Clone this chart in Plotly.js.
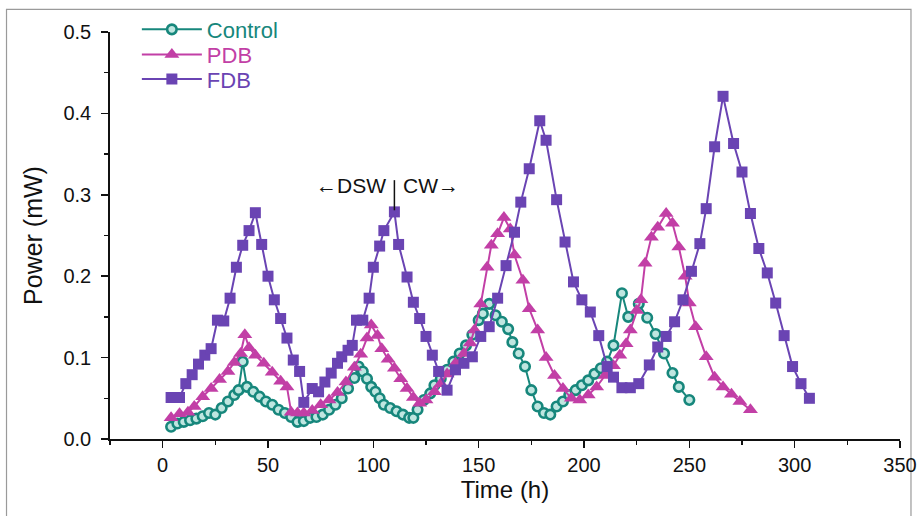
<!DOCTYPE html>
<html>
<head>
<meta charset="utf-8">
<script src="https://cdn.plot.ly/plotly-3.0.1.min.js"></script>
<style>
html,body{margin:0;padding:0;background:#fff;}
#chart{width:919px;height:516px;}
</style>
</head>
<body>
<div id="chart"></div>
<script>
// ---- data ----
const controlX = [4,7,10,13,16,19,22,25,28,31,34,36,38,40,43,46,49,52,55,58,61,64,67,70,73,76,79,82,85,88,91,93,95,97,99,101,103,105,108,111,114,117,119,121,124,127,129,132,135,138,141,144,147,150,152,155,158,161,164,166,169,172,175,178,181,184,187,190,193,196,199,202,205,208,211,214,218,221,226,230,234,238,242,245,250];
const controlY = [0.015,0.019,0.021,0.023,0.025,0.028,0.032,0.030,0.038,0.046,0.054,0.060,0.095,0.064,0.058,0.052,0.046,0.042,0.036,0.032,0.027,0.021,0.022,0.026,0.027,0.030,0.036,0.042,0.050,0.062,0.075,0.089,0.083,0.074,0.064,0.058,0.050,0.042,0.038,0.034,0.030,0.026,0.026,0.036,0.048,0.056,0.066,0.074,0.085,0.095,0.105,0.115,0.128,0.146,0.154,0.166,0.152,0.144,0.135,0.119,0.105,0.089,0.060,0.040,0.032,0.030,0.040,0.046,0.054,0.060,0.066,0.072,0.080,0.087,0.095,0.115,0.179,0.150,0.166,0.149,0.129,0.105,0.081,0.064,0.048];

const pdbX = [4,8,12,15,19,23,27,31,34,37,39,41,44,48,52,56,59,61,64,67,71,75,79,83,87,91,94,97,99,102,104,107,110,113,116,119,122,125,129,132,135,139,143,146,148,151,154,156,159,162,165,167,171,174,178,182,186,190,194,198,202,206,210,214,217,220,222,225,227,229,232,235,239,242,245,248,250,253,258,262,266,270,274,279];
const pdbY = [0.026,0.031,0.033,0.040,0.052,0.062,0.073,0.083,0.094,0.105,0.128,0.112,0.103,0.093,0.082,0.071,0.064,0.033,0.032,0.032,0.035,0.042,0.048,0.057,0.070,0.088,0.104,0.124,0.140,0.127,0.111,0.098,0.087,0.074,0.062,0.051,0.044,0.048,0.058,0.068,0.080,0.093,0.105,0.118,0.134,0.166,0.211,0.238,0.252,0.272,0.258,0.226,0.195,0.160,0.134,0.100,0.078,0.062,0.050,0.048,0.054,0.064,0.078,0.090,0.103,0.117,0.134,0.158,0.171,0.216,0.248,0.260,0.277,0.265,0.236,0.200,0.167,0.138,0.101,0.076,0.064,0.055,0.046,0.036];

const fdbX = [4,8,11,14,17,20,23,26,29,32,35,38,41,44,47,50,53,56,59,62,65,67,71,74,77,80,83,85,88,90,92,95,98,100,103,105,110,112,116,119,122,125,128,131,135,139,143,147,151,155,159,163,167,170,174,179,182,187,191,195,199,203,207,211,214,218,222,226,231,235,239,243,247,251,255,258,262,266,271,275,279,283,287,291,295,299,303,307];
const fdbY = [0.051,0.051,0.068,0.079,0.092,0.103,0.111,0.146,0.145,0.173,0.211,0.238,0.256,0.278,0.239,0.200,0.171,0.148,0.124,0.097,0.083,0.045,0.062,0.058,0.070,0.081,0.093,0.101,0.109,0.115,0.146,0.146,0.173,0.211,0.237,0.256,0.279,0.239,0.199,0.168,0.148,0.126,0.103,0.083,0.060,0.085,0.093,0.101,0.126,0.138,0.173,0.213,0.254,0.291,0.332,0.391,0.367,0.294,0.242,0.193,0.171,0.156,0.127,0.089,0.076,0.063,0.063,0.068,0.091,0.113,0.126,0.144,0.171,0.206,0.240,0.283,0.359,0.421,0.363,0.328,0.277,0.234,0.204,0.167,0.127,0.089,0.068,0.050];

const seriesNames = ["Control", "PDB", "FDB"];
const xTitle = "Time (h)";
const yTitle = "Power (mW)";
const xTickVals = [0,50,100,150,200,250,300,350];
const yTickVals = [0.0,0.1,0.2,0.3,0.4,0.5];
const yTickText = ["0.0","0.1","0.2","0.3","0.4","0.5"];
// annotation: DSW / CW switch marker
const switchX = 110;
const switchY0 = 0.281, switchY1 = 0.318;
const labelY = 0.312;

// ---- styles ----
const cTeal = "#17877c";
const cMag = "#c23fa6";
const cPur = "#6a44b3";
const ff = "Liberation Sans, Arial, sans-serif";
const legendRowsY = [1.006, 0.944, 0.884];

const traces = [
  {x: controlX, y: controlY, name: `<span style="color:${cTeal}">${seriesNames[0]}</span>`,
   mode: "lines+markers", type: "scatter", legend: "legend",
   line: {color: cTeal, width: 2},
   marker: {symbol: "circle", size: 9.5, color: "#bfe6e0", line: {color: cTeal, width: 2.6}}},
  {x: pdbX, y: pdbY, name: `<span style="color:${cMag}">${seriesNames[1]}</span>`,
   mode: "lines+markers", type: "scatter", legend: "legend2",
   line: {color: cMag, width: 2},
   marker: {symbol: "triangle-up", size: 13, color: cMag}},
  {x: fdbX, y: fdbY, name: `<span style="color:${cPur}">${seriesNames[2]}</span>`,
   mode: "lines+markers", type: "scatter", legend: "legend3",
   line: {color: cPur, width: 2},
   marker: {symbol: "square", size: 11, color: cPur}}
];

function legendAt(y) {
  return {x: 0.034, y: y, xanchor: "left", yanchor: "middle",
          font: {family: ff, size: 22}, bgcolor: "rgba(0,0,0,0)", itemwidth: 60};
}

const layout = {
  width: 919, height: 516,
  margin: {l: 110, r: 19, t: 32, b: 77, autoexpand: false},
  paper_bgcolor: "#fff", plot_bgcolor: "#fff",
  font: {family: ff, color: "#111", size: 20},
  showlegend: true,
  legend: legendAt(legendRowsY[0]),
  legend2: legendAt(legendRowsY[1]),
  legend3: legendAt(legendRowsY[2]),
  xaxis: {
    range: [-25, 350], tickvals: xTickVals, ticks: "outside", ticklen: 7, tickwidth: 1.5,
    tickcolor: "#111", showline: true, linecolor: "#111", linewidth: 1.8,
    showgrid: false, zeroline: false, tickfont: {family: ff, size: 20},
    ticklabeloverflow: "allow", automargin: false,
    minor: {dtick: 25, tick0: 0, ticks: "outside", ticklen: 4, tickcolor: "#111", showgrid: false},
    title: {text: xTitle, font: {family: ff, size: 24}, standoff: 6}
  },
  yaxis: {
    range: [0, 0.5], tickvals: yTickVals, ticktext: yTickText, ticks: "outside", ticklen: 7, tickwidth: 1.5,
    tickcolor: "#111", showline: true, linecolor: "#111", linewidth: 1.8,
    showgrid: false, zeroline: false, tickfont: {family: ff, size: 20},
    ticklabelstandoff: 6, automargin: false,
    minor: {dtick: 0.05, tick0: 0, ticks: "outside", ticklen: 4, tickcolor: "#111", showgrid: false},
    title: {text: yTitle, font: {family: ff, size: 25}, standoff: 14}
  },
  shapes: [
    {type: "line", xref: "x", yref: "y", x0: switchX, x1: switchX, y0: switchY0, y1: switchY1,
     line: {color: "#111", width: 1.5}},
    {type: "rect", xref: "paper", yref: "paper", x0: -0.131, x1: 1.0139, y0: -0.3, y1: 1.0557,
     line: {color: "#9a9a9a", width: 1.2}, fillcolor: "rgba(0,0,0,0)", layer: "below"}
  ],
  annotations: [
    {x: switchX - 3, y: labelY, xref: "x", yref: "y", text: "←DSW", showarrow: false,
     xanchor: "right", font: {family: ff, size: 21, color: "#111"}},
    {x: switchX + 3, y: labelY, xref: "x", yref: "y", text: "CW→", showarrow: false,
     xanchor: "left", font: {family: ff, size: 21, color: "#111"}}
  ]
};

Plotly.newPlot("chart", traces, layout, {displayModeBar: false, staticPlot: true});
</script>
</body>
</html>
